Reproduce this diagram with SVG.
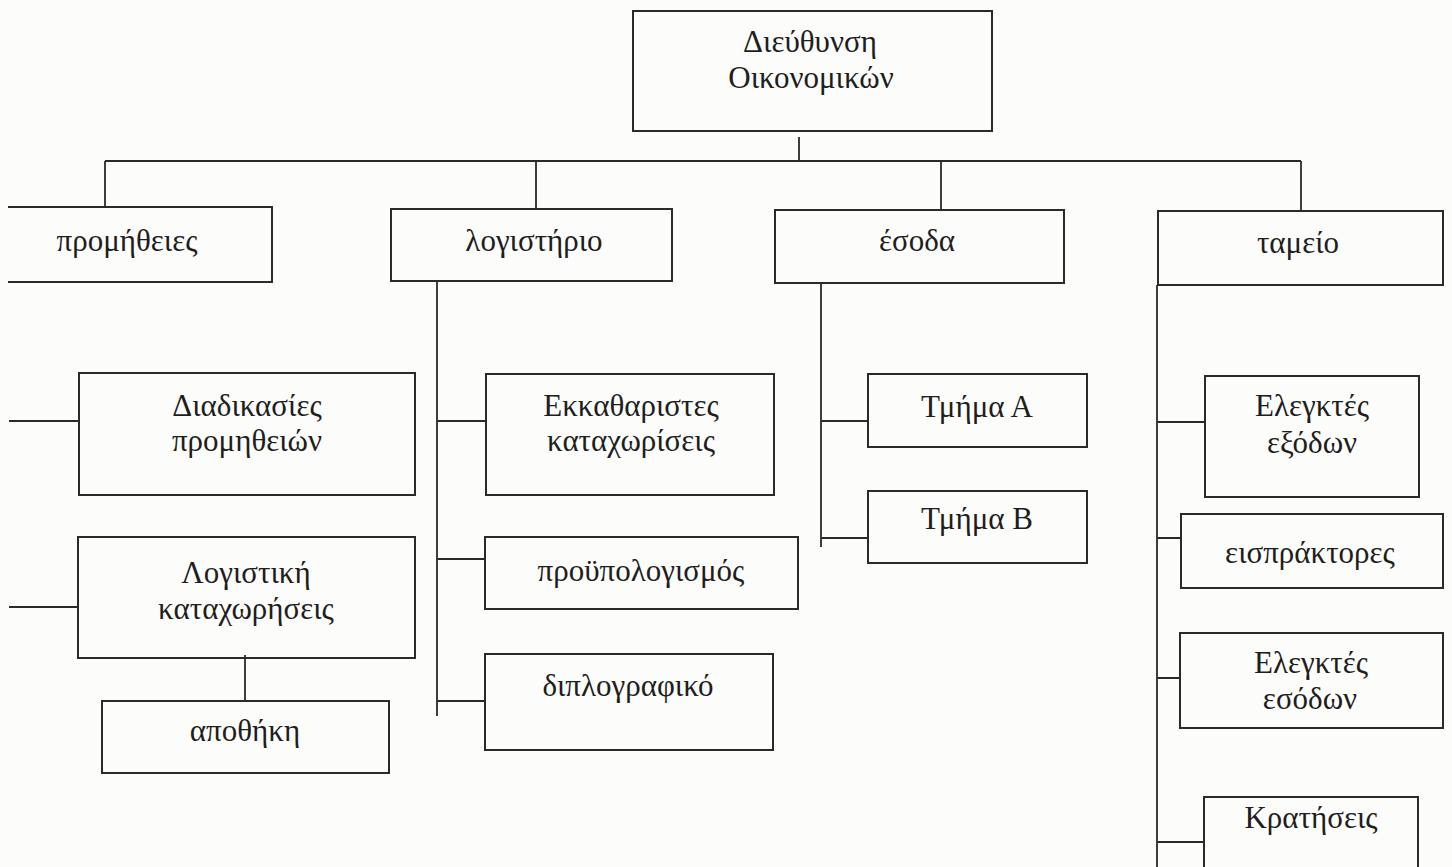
<svg xmlns="http://www.w3.org/2000/svg" width="1452" height="867" viewBox="0 0 1452 867">
<style>
.b{fill:none;stroke:#2a2a2a;stroke-width:2}
.c{fill:none;stroke:#2a2a2a;stroke-width:1.8}
text{font-family:"Liberation Serif","Times New Roman",serif;font-size:31px;fill:#1e1e1e;text-anchor:middle}
</style>
<rect width="1452" height="867" fill="#fcfcfa"/>
<g id="connectors">
<path class="c" d="M799,137V161M105,161H1301M105,161V207M536,161V209M941,161V211M1301,161V211"/>
<path class="c" d="M9,421H79M9,607H78M245,655V701"/>
<path class="c" d="M437,281V716M437,421H486M437,559H485M437,701H485"/>
<path class="c" d="M821,283V547M821,421H868M821,538H868"/>
<path class="c" d="M1157,285V867M1157,422H1205M1157,538H1181M1157,678H1180M1157,842H1204"/>
</g>
<g id="n-root"><rect class="b" x="633" y="11" width="359" height="120"/><text x="810" y="52">Διεύθυνση</text><text x="811" y="88">Οικονομικών</text></g>
<g id="n-promitheies"><path class="b" d="M8,207H272V282H8"/><text x="127" y="251">προμήθειες</text></g>
<g id="n-logistirio"><rect class="b" x="391" y="209" width="281" height="72"/><text x="534" y="251">λογιστήριο</text></g>
<g id="n-esoda"><rect class="b" x="775" y="210" width="289" height="73"/><text x="917" y="251">έσοδα</text></g>
<g id="n-tameio"><rect class="b" x="1158" y="211" width="285" height="74"/><text x="1298" y="253">ταμείο</text></g>
<g id="n-diadikasies"><rect class="b" x="79" y="373" width="336" height="122"/><text x="247" y="416">Διαδικασίες</text><text x="247" y="451">προμηθειών</text></g>
<g id="n-logistiki"><rect class="b" x="78" y="537" width="337" height="121"/><text x="246" y="583">Λογιστική</text><text x="246" y="619">καταχωρήσεις</text></g>
<g id="n-apothiki"><rect class="b" x="102" y="701" width="287" height="72"/><text x="245" y="741">αποθήκη</text></g>
<g id="n-ekkatharistes"><rect class="b" x="486" y="374" width="288" height="121"/><text x="631" y="416">Εκκαθαριστες</text><text x="631" y="451">καταχωρίσεις</text></g>
<g id="n-proypologismos"><rect class="b" x="485" y="537" width="313" height="72"/><text x="641" y="581">προϋπολογισμός</text></g>
<g id="n-diplografiko"><rect class="b" x="485" y="654" width="288" height="96"/><text x="628" y="696">διπλογραφικό</text></g>
<g id="n-tmimaA"><rect class="b" x="868" y="374" width="219" height="73"/><text x="977" y="417">Τμήμα Α</text></g>
<g id="n-tmimaB"><rect class="b" x="868" y="491" width="219" height="72"/><text x="977" y="529">Τμήμα Β</text></g>
<g id="n-elegktes-exodon"><rect class="b" x="1205" y="376" width="214" height="121"/><text x="1312" y="416">Ελεγκτές</text><text x="1312" y="453">εξόδων</text></g>
<g id="n-eispraktores"><rect class="b" x="1181" y="514" width="262" height="74"/><text x="1310" y="563">εισπράκτορες</text></g>
<g id="n-elegktes-esodon"><rect class="b" x="1180" y="633" width="263" height="95"/><text x="1311" y="673">Ελεγκτές</text><text x="1310" y="709">εσόδων</text></g>
<g id="n-kratiseis"><path class="b" d="M1204,870V797H1418V870"/><text x="1311" y="828">Κρατήσεις</text></g>
</svg>
